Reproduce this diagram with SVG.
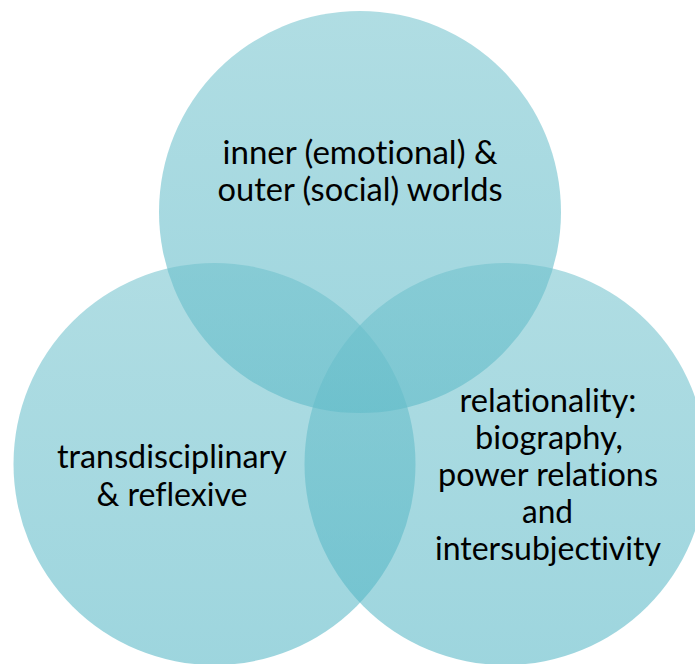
<svg xmlns="http://www.w3.org/2000/svg" width="695" height="664" viewBox="0 0 695 664">
  <defs>
    <!-- shared vertical teal gradient for the three sets -->
    <linearGradient id="setFill" x1="0" y1="0" x2="0" y2="1">
      <stop offset="0" stop-color="#6fc1cc"/>
      <stop offset="1" stop-color="#4db3c3"/>
    </linearGradient>
    <style>
      .set { fill: url(#setFill); fill-opacity: 0.55; }
      .label { font-family: Lato, "Open Sans", "Liberation Sans", sans-serif; font-size: 32px; fill: #000000; text-anchor: middle; font-variant-ligatures: none; font-feature-settings: "liga" 0; }
    </style>
  </defs>
  <rect width="695" height="664" fill="#ffffff"/>

  <g id="set-inner-outer">
    <circle class="set" cx="360" cy="212" r="201"/>
    <text class="label" x="360" y="164" textLength="275" lengthAdjust="spacingAndGlyphs">inner (emotional) &amp;</text>
    <text class="label" x="360" y="201" textLength="285" lengthAdjust="spacingAndGlyphs">outer (social) worlds</text>
  </g>

  <g id="set-transdisciplinary">
    <circle class="set" cx="214.5" cy="464" r="201"/>
    <text class="label" x="172" y="468" textLength="230" lengthAdjust="spacingAndGlyphs">transdisciplinary</text>
    <text class="label" x="172" y="506" textLength="151" lengthAdjust="spacingAndGlyphs">&amp; reflexive</text>
  </g>

  <g id="set-relationality">
    <circle class="set" cx="505.5" cy="464" r="201"/>
    <text class="label" x="548" y="412" textLength="177" lengthAdjust="spacingAndGlyphs">relationality:</text>
    <text class="label" x="549" y="449" textLength="148" lengthAdjust="spacingAndGlyphs">biography,</text>
    <text class="label" x="548" y="486" textLength="220" lengthAdjust="spacingAndGlyphs">power relations</text>
    <text class="label" x="547.5" y="523" textLength="51" lengthAdjust="spacingAndGlyphs">and</text>
    <text class="label" x="548" y="560" textLength="226" lengthAdjust="spacingAndGlyphs">intersubjectivity</text>
  </g>

  <g id="connectors"/>
</svg>
